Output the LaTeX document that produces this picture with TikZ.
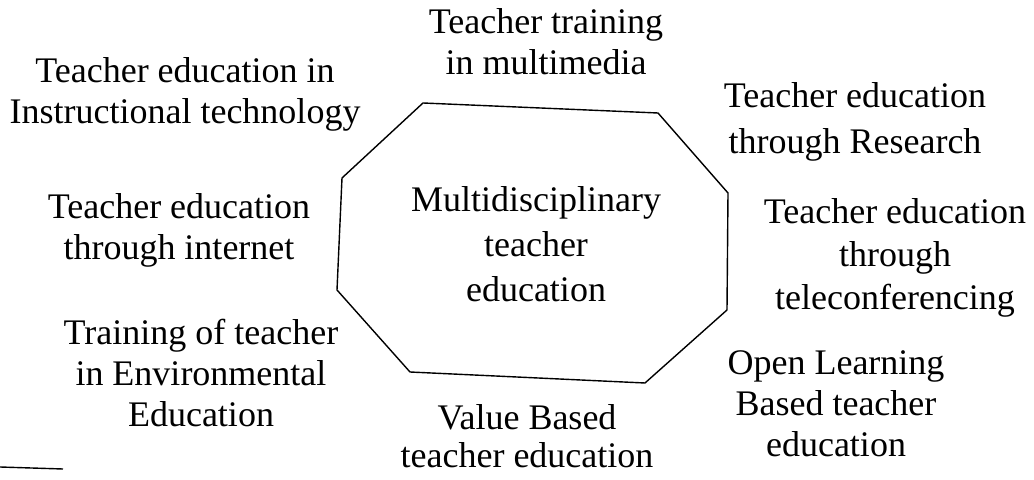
\documentclass[tikz,border=0pt]{standalone}
\usepackage{fontspec}
\setmainfont{Liberation Serif}
\usepackage{tikz}
\usetikzlibrary{positioning}

\begin{document}
\begin{tikzpicture}[
  x=0.5pt, y=-0.5pt,
  lbl/.style={align=center, inner sep=0pt, font=\fontsize{18}{20.5}\selectfont},
  oct/.style={line width=0.7pt, line join=miter}
]
\useasboundingbox (0,0) rectangle (1034,480);

% octagon
\draw[oct] (423,103) -- (658,113) -- (728,193) -- (727,310)
  -- (645,383) -- (410,372) -- (337,290) -- (342,178) -- cycle;

\node[lbl, font=\fontsize{18}{22.5}\selectfont] (core) at (536,244) {Multidisciplinary\\teacher\\education};

\node[lbl] (media) at (546,42) {Teacher training\\in multimedia};
\node[lbl] (instr) at (185,94) {Teacher education in\\Instructional technology};
\node[lbl, font=\fontsize{18}{23}\selectfont] (research) at (855,122) {Teacher education\\through Research};
\node[lbl] (internet) at (179,230) {Teacher education\\through internet};
\node[lbl, font=\fontsize{18}{21.5}\selectfont] (telecon) at (895,258) {Teacher education\\through\\teleconferencing};
\node[lbl] (environ) at (201,373) {Training of teacher\\in Environmental\\Education};
\node[lbl] (open) at (836,404) {Open Learning\\Based teacher\\education};
\node[lbl, font=\fontsize{18}{19}\selectfont] (value) at (527,436) {Value Based\\teacher education};

% stray rule
\draw[line width=0.7pt] (0,467) -- (63,469);
\end{tikzpicture}
\end{document}
